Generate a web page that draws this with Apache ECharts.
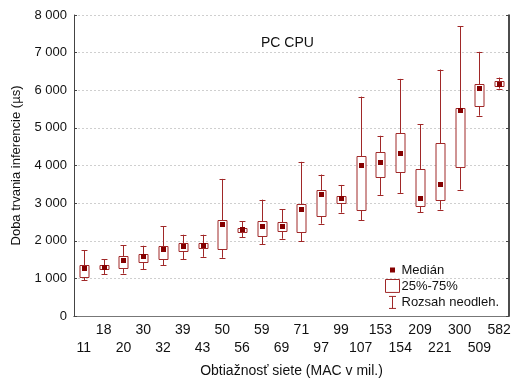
<!DOCTYPE html>
<html><head><meta charset="utf-8">
<script src="https://cdn.jsdelivr.net/npm/echarts@6/dist/echarts.min.js"></script>
<style>html,body{margin:0;padding:0;background:#fff}#c{width:515px;height:385px}</style>
</head><body><div id="c"></div>
<script>
const categories = ['11','18','20','30','32','39','43','50','56','59','69','71','97','99','107','153','154','209','221','300','509','582'];
const whiskerLow  = [951,1111,1129,1244,1351,1511,1573,1547,2089,1911,2053,1982,2453,2747,2542,3218,3271,2764,2827,3360,5324,6044];
const q1          = [1040,1236,1271,1422,1520,1733,1804,1778,2222,2124,2267,2240,2658,3013,2827,3707,3822,2924,3093,3973,5573,6124];
const median      = [1289,1307,1493,1591,1778,1867,1876,2444,2311,2400,2382,2853,3236,3129,4009,4080,4329,3129,3520,5467,6062,6178];
const q3          = [1360,1360,1600,1644,1867,1929,1938,2542,2329,2516,2498,2978,3351,3191,4240,4347,4871,3920,4587,5538,6178,6240];
const whiskerHigh = [1751,1502,1884,1867,2382,2160,2160,3644,2516,3093,2836,4098,3760,3484,5831,4791,6302,5102,6551,7707,7022,6338];
const yTicks = [0,1000,2000,3000,4000,5000,6000,7000,8000];

const lineColor = '#a02828';
const medColor = '#850000';
const font = 'Liberation Sans, Arial, sans-serif';

const whiskerData = categories.map((c,i)=>[i, whiskerLow[i], whiskerHigh[i]]);
const boxData = categories.map((c,i)=>[i, q1[i], q3[i]]);
const medData = categories.map((c,i)=>[i, median[i]]);

const fmt = v => String(v).replace(/\B(?=(\d{3})+(?!\d))/g, ' ');

const chart = echarts.init(document.getElementById('c'), null, {renderer:'canvas'});
chart.setOption({
  animation:false,
  textStyle:{fontFamily:font},
  title:{text:'PC CPU', left:256, top:31,
    textStyle:{fontSize:14, fontWeight:'normal', color:'#111', fontFamily:font}},
  grid:{left:74, right:6, top:15, bottom:69},
  legend:{
    orient:'vertical', left:380, top:258, itemWidth:14, itemHeight:14, itemGap:2,
    textStyle:{fontSize:13, color:'#111', fontFamily:font, padding:[0,0,0,-3]},
    data:[
      {name:'Medián', icon:'path://M0,0M14,14M4.5,4.5h5v5h-5z', itemStyle:{color:medColor}},
      {name:'25%-75%', icon:'path://M0.5,1h13v12h-13z', itemStyle:{color:'transparent', borderColor:lineColor, borderWidth:1}},
      {name:'Rozsah neodleh.', icon:'path://M0,0M14,14M3.5,1h7M7,1v12M3.5,13h7', itemStyle:{color:'transparent', borderColor:lineColor, borderWidth:1}}
    ]
  },
  xAxis:[{
    type:'category', data:categories, boundaryGap:true,
    name:'Obtiažnosť siete (MAC v mil.)', nameLocation:'middle', nameGap:48,
    nameTextStyle:{fontSize:14, color:'#111', fontFamily:font},
    axisLine:{lineStyle:{color:'#444', width:1}},
    axisTick:{inside:true, alignWithLabel:true, length:3, lineStyle:{color:'#444'}},
    axisLabel:{interval:0, fontSize:14, color:'#111', margin:5, lineHeight:18,
      formatter:(v,i)=> i%2===0 ? '\n'+v : v},
    splitLine:{show:false}
  },{
    type:'category', data:categories, position:'top', boundaryGap:true,
    axisLine:{lineStyle:{color:'#777'}},
    axisTick:{inside:true, alignWithLabel:true, length:3, lineStyle:{color:'#555'}},
    axisLabel:{show:false}, splitLine:{show:false}
  }],
  yAxis:[{
    type:'value', min:0, max:8000, interval:1000,
    name:'Doba trvania inferencie (µs)', nameLocation:'middle', nameGap:51,
    nameTextStyle:{fontSize:13, color:'#111', fontFamily:font},
    axisLine:{show:true, lineStyle:{color:'#444'}},
    axisTick:{show:true, inside:true, length:3, lineStyle:{color:'#444'}},
    axisLabel:{fontSize:13, color:'#111', margin:7, formatter:fmt},
    splitLine:{show:true, lineStyle:{color:'#cfcfcf', type:[2,2], width:1}}
  },{
    type:'value', min:0, max:8000, interval:1000, position:'right',
    axisLine:{show:true, lineStyle:{color:'#111', width:1.5}},
    axisTick:{show:true, inside:true, length:3, lineStyle:{color:'#444'}},
    axisLabel:{show:false}, splitLine:{show:false}
  }],
  series:[
    {
      name:'Rozsah neodleh.', type:'custom', z:2,
      itemStyle:{color:lineColor},
      encode:{x:0, y:[1,2]},
      data:whiskerData,
      renderItem:(params, api)=>{
        const x = api.value(0);
        const lo = api.coord([x, api.value(1)]);
        const hi = api.coord([x, api.value(2)]);
        const band = api.size([1,0])[0];
        const cw = band*0.3;
        const cx = Math.round(lo[0])+0.5;
        const style = {stroke:lineColor, lineWidth:1, fill:null};
        return {type:'group', children:[
          {type:'line', shape:{x1:cx, y1:lo[1], x2:cx, y2:hi[1]}, style},
          {type:'line', shape:{x1:cx-cw/2, y1:Math.round(lo[1])+0.5, x2:cx+cw/2, y2:Math.round(lo[1])+0.5}, style},
          {type:'line', shape:{x1:cx-cw/2, y1:Math.round(hi[1])+0.5, x2:cx+cw/2, y2:Math.round(hi[1])+0.5}, style}
        ]};
      }
    },
    {
      name:'25%-75%', type:'custom', z:3,
      itemStyle:{color:lineColor},
      encode:{x:0, y:[1,2]},
      data:boxData,
      renderItem:(params, api)=>{
        const x = api.value(0);
        const lo = api.coord([x, api.value(1)]);
        const hi = api.coord([x, api.value(2)]);
        const band = api.size([1,0])[0];
        const bw = Math.round(band*0.46);
        const cx = Math.round(lo[0])+0.5;
        return {type:'rect', shape:{x:cx-bw/2, y:Math.round(hi[1])+0.5, width:bw, height:Math.round(lo[1])-Math.round(hi[1])},
          style:{fill:'#fff', stroke:lineColor, lineWidth:1}};
      }
    },
    {
      name:'Medián', type:'custom', z:4,
      itemStyle:{color:medColor},
      encode:{x:0, y:1},
      data:medData,
      renderItem:(params, api)=>{
        const p = api.coord([api.value(0), api.value(1)]);
        const cx = Math.round(p[0]);
        const cy = Math.round(p[1]);
        return {type:'rect', shape:{x:cx-2, y:cy-2, width:5, height:5},
          style:{fill:medColor}};
      }
    }
  ]
});
</script></body></html>
